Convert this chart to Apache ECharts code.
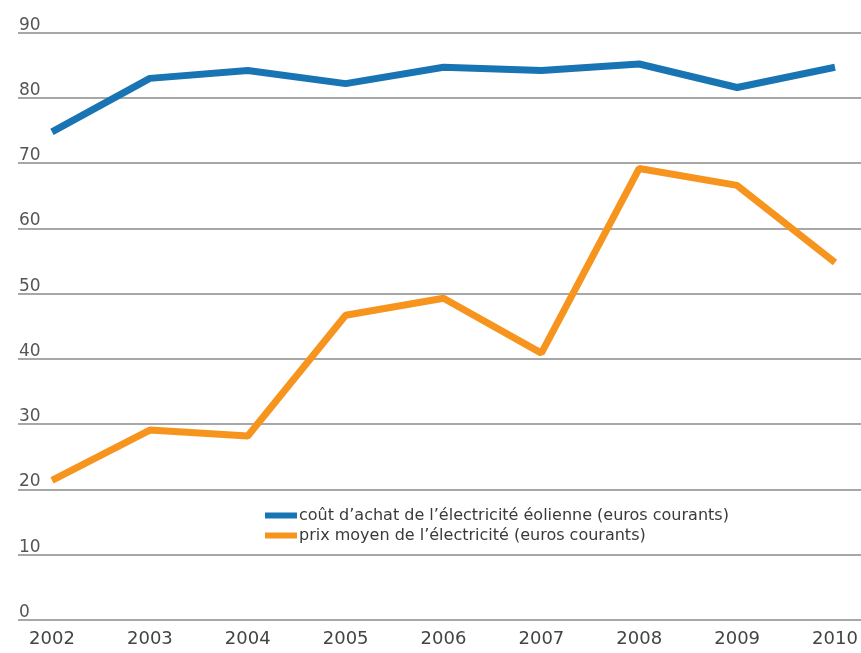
<!DOCTYPE html>
<html>
<head>
<meta charset="utf-8">
<script src="https://cdn.jsdelivr.net/npm/echarts@6/dist/echarts.min.js"></script>
<style>html,body{margin:0;padding:0;background:#fff}#c{width:861px;height:653px}</style>
</head>
<body>
<div id="c"></div>
<script>
const years = ['2002','2003','2004','2005','2006','2007','2008','2009','2010'];
const windCost = [74.8, 83.0, 84.2, 82.2, 84.7, 84.2, 85.2, 81.6, 84.7];
const avgPrice = [21.4, 29.1, 28.2, 46.7, 49.3, 40.9, 69.2, 66.6, 54.8];
const seriesNames = ['coût d’achat de l’électricité éolienne (euros courants)', 'prix moyen de l’électricité (euros courants)'];
const yMin = 0, yMax = 90, yStep = 10;

const chart = echarts.init(document.getElementById('c'), null, {renderer: 'canvas'});
const font = '"DejaVu Sans", "Liberation Sans", sans-serif';
chart.setOption({
  animation: false,
  backgroundColor: '#fff',
  grid: [
    {left: 18, right: 0, top: 32.7, bottom: 33},
    {left: 52, right: 26, top: 32.7, bottom: 33}
  ],
  legend: {
    orient: 'vertical',
    left: 260, top: 501,
    itemWidth: 32, itemHeight: 6, itemGap: 1,
    icon: 'rect',
    textStyle: {fontSize: 16, lineHeight: 19, color: '#3a3a3a', fontFamily: font, padding: [0,0,0,-3]},
    data: seriesNames
  },
  xAxis: [
    {gridIndex: 0, type: 'value', show: false, min: 0, max: 1},
    {gridIndex: 1, type: 'category', data: years, boundaryGap: false,
     axisLine: {show: false}, axisTick: {show: false},
     axisLabel: {fontSize: 18, color: '#444', fontFamily: font, margin: 10}}
  ],
  yAxis: [
    {gridIndex: 0, type: 'value', min: yMin, max: yMax, interval: yStep,
     axisLine: {show: false}, axisTick: {show: false},
     axisLabel: {inside: true, margin: 1, verticalAlign: 'bottom', fontSize: 17, color: '#555', fontFamily: font, padding: [0,0,-1,0]},
     splitLine: {lineStyle: {color: '#8a8a8a', width: 1.5}}},
    {gridIndex: 1, type: 'value', min: yMin, max: yMax, interval: yStep, show: false, splitLine: {show: false}}
  ],
  series: [
    {name: seriesNames[0], type: 'line', xAxisIndex: 1, yAxisIndex: 1, data: windCost,
     showSymbol: false, symbol: 'none', color: '#1874b3', lineStyle: {width: 7, color: '#1874b3'}},
    {name: seriesNames[1], type: 'line', xAxisIndex: 1, yAxisIndex: 1, data: avgPrice,
     showSymbol: false, symbol: 'none', color: '#f7941d', lineStyle: {width: 7, color: '#f7941d'}}
  ]
});
</script>
</body>
</html>
